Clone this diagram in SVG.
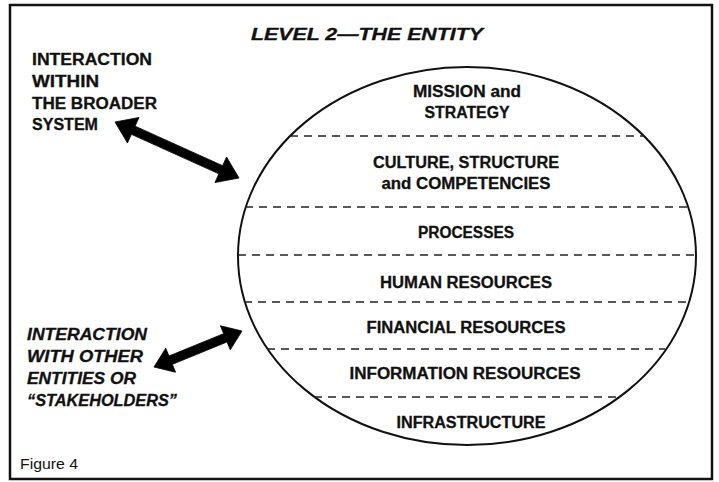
<svg xmlns="http://www.w3.org/2000/svg" width="719" height="482" viewBox="0 0 719 482">
<style>
.t{font-family:"Liberation Sans",Arial,sans-serif;font-weight:bold;font-size:16px;fill:#111;stroke:#111;stroke-width:0.3}
.c{text-anchor:middle}
.i{font-style:italic}
.sep{stroke:#222;stroke-width:1.6;stroke-dasharray:8 6;fill:none}
.arrow{fill:#000;stroke:#000;stroke-width:0.8;stroke-linejoin:miter}
</style>
<rect x="0" y="0" width="719" height="482" fill="#fff"/>
<rect id="frame" x="10" y="5" width="702" height="474" fill="none" stroke="#111" stroke-width="2.5"/>
<g id="title">
<text class="t c i" x="367" y="40" font-size="19" textLength="232" lengthAdjust="spacingAndGlyphs">LEVEL 2—THE ENTITY</text>
</g>
<g id="entity">
<ellipse cx="467" cy="256" rx="229" ry="189" fill="none" stroke="#111" stroke-width="2"/>
<line class="sep" x1="290" y1="136" x2="644" y2="136"/>
<line class="sep" x1="245" y1="207" x2="688" y2="207"/>
<line class="sep" x1="238" y1="255" x2="696" y2="255"/>
<line class="sep" x1="244" y1="302" x2="689" y2="302"/>
<line class="sep" x1="267" y1="349" x2="665" y2="349"/>
<line class="sep" x1="314" y1="397" x2="619" y2="397"/>
</g>
<g id="mission">
<text class="t c" x="467" y="97" textLength="108" lengthAdjust="spacingAndGlyphs">MISSION and</text>
<text class="t c" x="467" y="118" textLength="85" lengthAdjust="spacingAndGlyphs">STRATEGY</text>
</g>
<g id="culture">
<text class="t c" x="466" y="168" textLength="186" lengthAdjust="spacingAndGlyphs">CULTURE, STRUCTURE</text>
<text class="t c" x="466" y="189" textLength="169" lengthAdjust="spacingAndGlyphs">and COMPETENCIES</text>
</g>
<g id="processes">
<text class="t c" x="466" y="238" textLength="96" lengthAdjust="spacingAndGlyphs">PROCESSES</text>
</g>
<g id="human">
<text class="t c" x="466" y="288" textLength="172" lengthAdjust="spacingAndGlyphs">HUMAN RESOURCES</text>
</g>
<g id="financial">
<text class="t c" x="466" y="333" textLength="199" lengthAdjust="spacingAndGlyphs">FINANCIAL RESOURCES</text>
</g>
<g id="information">
<text class="t c" x="465" y="379" textLength="231" lengthAdjust="spacingAndGlyphs">INFORMATION RESOURCES</text>
</g>
<g id="infrastructure">
<text class="t c" x="471" y="428" textLength="149" lengthAdjust="spacingAndGlyphs">INFRASTRUCTURE</text>
</g>
<g id="broader-system">
<text class="t" x="32" y="65" textLength="120" lengthAdjust="spacingAndGlyphs">INTERACTION</text>
<text class="t" x="32" y="87" textLength="67" lengthAdjust="spacingAndGlyphs">WITHIN</text>
<text class="t" x="32" y="109" textLength="125" lengthAdjust="spacingAndGlyphs">THE BROADER</text>
<text class="t" x="32" y="130" textLength="66" lengthAdjust="spacingAndGlyphs">SYSTEM</text>
</g>
<g id="stakeholders">
<text class="t i" x="27" y="340" textLength="120" lengthAdjust="spacingAndGlyphs">INTERACTION</text>
<text class="t i" x="27" y="362" textLength="116" lengthAdjust="spacingAndGlyphs">WITH OTHER</text>
<text class="t i" x="27" y="384" textLength="109" lengthAdjust="spacingAndGlyphs">ENTITIES OR</text>
<text class="t i" x="27" y="406" textLength="150" lengthAdjust="spacingAndGlyphs">“STAKEHOLDERS”</text>
</g>
<g id="caption">
<text x="20" y="469" font-family="Liberation Sans, Arial, sans-serif" font-size="15" fill="#111" textLength="58" lengthAdjust="spacingAndGlyphs">Figure 4</text>
</g>
<g id="connectors">
<polygon class="arrow" points="115,122 138.99,117.47 135.08,126.13 222.62,165.67 226.53,157.01 239,178 215.01,182.53 218.92,173.87 131.38,134.33 127.47,142.99"/>
<polygon class="arrow" points="154,367 165.74,348.16 168.96,356.03 223.64,333.65 220.42,325.78 242,331 230.26,349.84 227.04,341.97 172.36,364.35 175.58,372.22"/>
</g>
</svg>
